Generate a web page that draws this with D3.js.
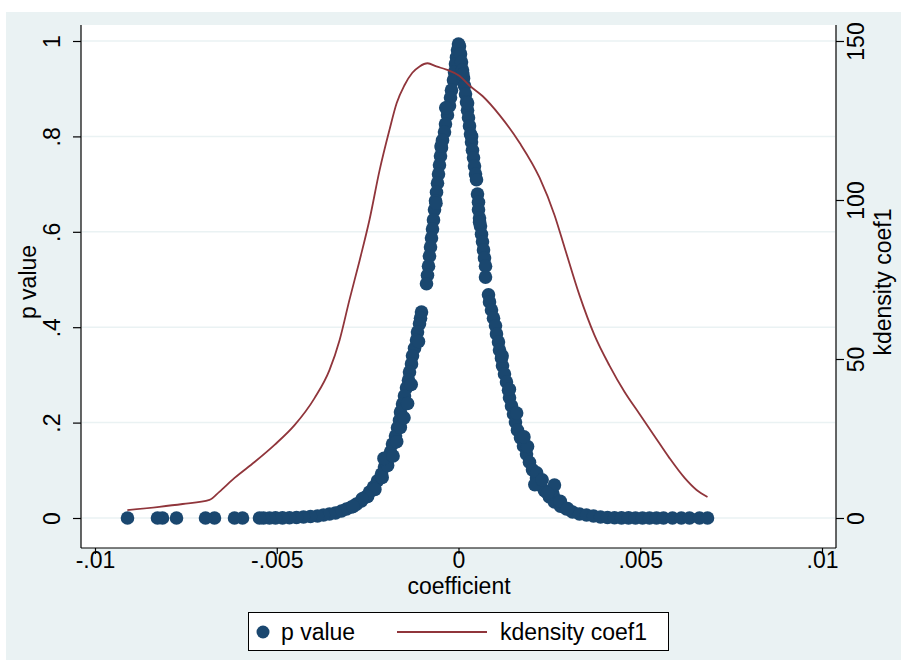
<!DOCTYPE html>
<html><head><meta charset="utf-8">
<script src="https://cdn.jsdelivr.net/npm/d3@7/dist/d3.min.js"></script>
<style>body{margin:0;background:#fff;} svg{display:block;} text{font-family:"Liberation Sans",Arial,Helvetica,sans-serif;fill:#000;}</style>
</head><body>
<svg id="c" width="901" height="660"></svg>
<script>
// ---- data ----
const pCoef = [0,-0.0000275,-0.000055,-0.0000825,-0.00011,-0.000138,-0.000193,-0.00022,-0.000248,-0.000303,-0.000358,-0.000385,-0.00044,-0.000468,-0.000495,-0.000523,-0.00055,-0.000578,-0.000605,-0.000633,-0.00066,-0.000688,-0.000715,-0.000743,-0.00077,-0.000798,-0.000825,-0.000853,-0.00088,
 -0.001018,-0.001045,-0.001073,-0.001128,-0.001155,-0.00121,-0.001265,-0.001293,-0.001348,-0.001376,-0.00143,-0.001486,-0.00154,-0.001596,-0.001623,-0.001678,-0.001733,-0.001816,-0.001871,-0.001953,-0.002036,-0.002118,-0.002228,-0.002338,-0.002448,-0.002558,-0.002669,-0.002806,-0.002944,-0.003081,-0.003219,-0.003384,-0.003549,-0.003714,-0.003879,-0.004072,-0.004264,-0.004457,-0.00465,-0.004842,-0.005034,-0.0052,-0.005365,-0.005475,-0.005942,-0.006162,-0.006713,-0.00696,-0.007758,-0.008143,-0.008281,-0.009106,
 0.0000275,0.000055,0.0000825,0.00011,0.000138,0.000165,0.000193,0.00022,0.000248,0.000275,0.000303,0.00033,0.000358,0.000385,0.000413,0.00044,0.000468,0.000495,0.000523,0.00055,0.00055,0.000578,0.000605,0.000633,0.00066,0.000688,0.000715,0.000743,0.000743,
 0.000825,0.000853,0.000908,0.000963,0.001018,0.001045,0.0011,0.001128,0.001183,0.00121,0.001265,0.00132,0.001376,0.001403,0.001458,0.001513,0.001568,0.001623,0.001706,0.001788,0.001871,0.001953,0.002036,0.002146,0.002256,0.002366,0.002503,0.002641,0.002806,0.002971,0.003136,0.003329,0.003521,0.003714,0.003906,0.004099,0.004292,0.004484,0.004677,0.004869,0.005062,0.005255,0.005447,0.00564,0.005887,0.00613,0.006355,0.00663,0.00685,
 -0.00195,-0.00205,-0.0017,-0.0016,-0.0023,-0.0025,-0.0021,-0.0015,-0.0013,-0.0011,-0.00062,-0.00048,-0.00035,-0.0014,-0.0018,-0.00265,-0.0029,
 0.00215,0.0021,0.0023,0.0019,0.0018,0.0026,0.0028,0.0016,0.0014,0.0012,0.00264,0.00036,0.00025,0.00012,0.00058,0.00245,0.0030];
const pValue = [0.9937,0.981,0.966,0.952,0.935,0.918,0.897,0.881,0.864,0.845,0.826,0.809,0.792,0.776,0.759,0.740,0.721,0.702,0.683,0.665,0.646,0.625,0.606,0.587,0.568,0.549,0.528,0.509,0.491,
 0.432,0.419,0.407,0.390,0.373,0.356,0.340,0.323,0.306,0.289,0.273,0.256,0.239,0.222,0.205,0.189,0.172,0.155,0.138,0.122,0.107,0.092,0.078,0.065,0.0545,0.044,0.036,0.029,0.023,0.019,0.0147,0.0105,0.0084,0.0063,0.0042,0.0031,0.0021,0.001,0.0005,0.0003,0.0002,0.0001,0.0001,0.0001,0,0,0,0,0,0,0,0,
 0.9895,0.973,0.956,0.939,0.922,0.906,0.889,0.872,0.855,0.839,0.822,0.805,0.788,0.771,0.755,0.738,0.721,0.709,0.679,0.662,0.646,0.629,0.612,0.595,0.579,0.562,0.545,0.528,0.505,
 0.468,0.453,0.436,0.419,0.403,0.386,0.369,0.352,0.335,0.319,0.302,0.285,0.268,0.252,0.235,0.218,0.201,0.184,0.168,0.151,0.134,0.117,0.101,0.084,0.069,0.057,0.044,0.0335,0.025,0.019,0.0126,0.0084,0.0063,0.0042,0.0021,0.001,0.0005,0.0003,0.0002,0.0001,0.0001,0,0,0,0,0,0,0,0,
 0.11,0.125,0.16,0.19,0.06,0.045,0.085,0.21,0.28,0.37,0.66,0.78,0.86,0.24,0.13,0.04,0.024,
 0.095,0.07,0.08,0.15,0.17,0.05,0.035,0.22,0.27,0.34,0.069,0.80,0.87,0.93,0.62,0.052,0.02];
const kdX = [-0.00911,-0.00823,-0.00759,-0.00685,-0.00658,-0.00616,-0.00561,-0.00506,-0.00451,-0.00396,-0.00355,-0.00327,-0.00300,-0.00272,-0.00245,-0.00217,-0.0019,-0.0017,-0.00149,-0.00127,-0.00107,-0.00085,-0.00061,-0.00033,0.00003,0.0003,0.00066,0.00113,0.00168,0.00223,0.00264,0.00292,0.00333,0.00374,0.00415,0.00457,0.00498,0.00539,0.0058,0.00622,0.00655,0.00685];
const kdY = [2.5,3.5,4.4,5.7,8.2,12.6,17.6,23,29.2,37.7,46.5,56,68.6,81,93.7,109.4,122,130.5,136,140,142,143,142,141,139,136,132.7,126.7,118,107,95.3,85,70,57.5,48,39.6,32.7,25.8,18.9,12.6,8.8,6.6];
const xTicks = [-0.01,-0.005,0,0.005,0.01];
const xTickLabels = ["-.01","-.005","0",".005",".01"];
const yTicks = [0,0.2,0.4,0.6,0.8,1];
const yTickLabels = ["0",".2",".4",".6",".8","1"];
const y2Ticks = [0,50,100,150];
const y2TickLabels = ["0","50","100","150"];
const xTitle = "coefficient", yTitle = "p value", y2Title = "kdensity coef1";
const legendLabels = ["p value","kdensity coef1"];

// ---- layout ----
const svg = d3.select("#c");
const bg = "#eaf2f3", navy = "#1a476f", maroon = "#90353b";
const L = 81, R = 836, T = 25, B = 548;
svg.append("rect").attr("x",6).attr("y",12).attr("width",895).attr("height",648).attr("fill",bg);
svg.append("rect").attr("x",L).attr("y",T).attr("width",R-L).attr("height",B-T).attr("fill","#fff");

const x = d3.scaleLinear().domain([-0.01,0.01]).range([95,822]);
const y = d3.scaleLinear().domain([0,1]).range([518,41]);
const y2 = d3.scaleLinear().domain([0,150]).range([518,41]);
const fs = 23;

// grid
svg.append("g").selectAll("line").data(yTicks).join("line")
  .attr("x1",L+1).attr("x2",R-1).attr("y1",d=>y(d)).attr("y2",d=>y(d))
  .attr("stroke",bg).attr("stroke-width",1.5);

// scatter
svg.append("g").selectAll("circle").data(pCoef.map((c,i)=>[c,pValue[i]])).join("circle")
  .attr("cx",d=>x(d[0])).attr("cy",d=>y(d[1])).attr("r",6.8).attr("fill",navy);

// kdensity line
svg.append("path").datum(kdX.map((c,i)=>[c,kdY[i]]))
  .attr("d",d3.line().x(d=>x(d[0])).y(d=>y2(d[1])).curve(d3.curveMonotoneX))
  .attr("fill","none").attr("stroke",maroon).attr("stroke-width",1.8);

// axes
const axL = d3.axisLeft(y).tickValues(yTicks).tickFormat((d,i)=>yTickLabels[i]).tickSize(8).tickSizeOuter(0);
const gL = svg.append("g").attr("transform",`translate(${L},0)`).call(axL);
const axR = d3.axisRight(y2).tickValues(y2Ticks).tickFormat((d,i)=>y2TickLabels[i]).tickSize(8).tickSizeOuter(0);
const gR = svg.append("g").attr("transform",`translate(${R},0)`).call(axR);
const axB = d3.axisBottom(x).tickValues(xTicks).tickFormat((d,i)=>xTickLabels[i]).tickSize(6).tickSizeOuter(0);
const gB = svg.append("g").attr("transform",`translate(0,${B})`).call(axB);
[gL,gR,gB].forEach(g=>{
  g.select(".domain").remove();
  g.selectAll("line").attr("stroke","#000").attr("stroke-width",1.2);
  g.selectAll("text").attr("font-size",fs).attr("font-family","Liberation Sans, Arial, sans-serif").attr("fill","#000");
});
// axis lines
svg.append("line").attr("x1",L).attr("x2",L).attr("y1",T).attr("y2",B).attr("stroke","#000").attr("stroke-width",1.2);
svg.append("line").attr("x1",R).attr("x2",R).attr("y1",T).attr("y2",B).attr("stroke","#000").attr("stroke-width",1.2);
svg.append("line").attr("x1",L).attr("x2",R).attr("y1",B).attr("y2",B).attr("stroke","#000").attr("stroke-width",1.2);

// rotate y tick labels
gL.selectAll(".tick text").attr("x",null).attr("dy",null).attr("text-anchor","middle")
  .attr("transform","translate(-29,0) rotate(-90)").attr("dy","0.35em");
gR.selectAll(".tick text").attr("x",null).attr("dy",null).attr("text-anchor","middle")
  .attr("transform","translate(20,0) rotate(-90)").attr("dy","0.35em");
gB.selectAll(".tick text").attr("y",4).attr("dy","0.71em");

// titles
svg.append("text").attr("transform","translate(28,282) rotate(-90)").attr("text-anchor","middle").attr("dy","0.35em").attr("font-size",fs).text(yTitle);
svg.append("text").attr("transform","translate(883,282) rotate(-90)").attr("text-anchor","middle").attr("dy","0.35em").attr("font-size",fs).text(y2Title);
svg.append("text").attr("x",459).attr("y",586).attr("text-anchor","middle").attr("dy","0.35em").attr("font-size",fs).text(xTitle);

// legend
const lg = svg.append("g");
lg.append("rect").attr("x",248.5).attr("y",612.5).attr("width",420).attr("height",38).attr("fill","#fff").attr("stroke","#000").attr("stroke-width",1);
lg.append("circle").attr("cx",263).attr("cy",632).attr("r",6.5).attr("fill",navy);
lg.append("text").attr("x",281).attr("y",632).attr("dy","0.35em").attr("font-size",fs).text(legendLabels[0]);
lg.append("line").attr("x1",397).attr("x2",487).attr("y1",632).attr("y2",632).attr("stroke",maroon).attr("stroke-width",1.8);
lg.append("text").attr("x",500).attr("y",632).attr("dy","0.35em").attr("font-size",fs).text(legendLabels[1]);
</script>
</body></html>
